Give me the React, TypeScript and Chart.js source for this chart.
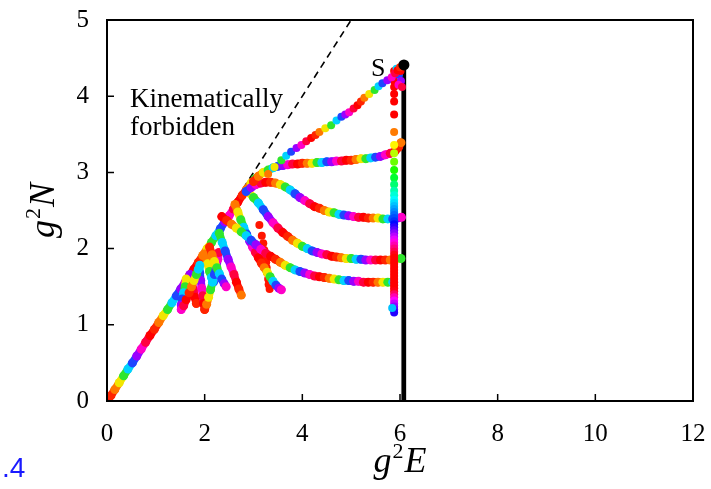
import React, { useEffect, useRef } from "react";
import { Chart, registerables } from "chart.js";

Chart.register(...registerables);

type P = [number, number];

const xTicks = [0, 2, 4, 6, 8, 10, 12];
const yTicks = [0, 1, 2, 3, 4, 5];

// forbidden boundary N = E (dashed)
const forbiddenLine: P[] = [[0, 0], [5, 5]];

// threshold (thick black) and its thin guide
const threshold: P[] = [[6.08, 0], [6.08, 4.41]];
const thresholdGuide: P[] = [[6.03, 0], [6.03, 4.41]];
const sPoint: P[] = [[6.08, 4.41]];

const diagonal: P[] = [
  [0, 0], [0.08, 0.07], [0.16, 0.15], [0.25, 0.24], [0.34, 0.33], [0.43, 0.42], [0.52, 0.5],
  [0.61, 0.59], [0.7, 0.68], [0.79, 0.77], [0.88, 0.86], [0.97, 0.94], [1.06, 1.03], [1.15, 1.12],
  [1.24, 1.2], [1.33, 1.29], [1.42, 1.38], [1.51, 1.47], [1.6, 1.56], [1.69, 1.65], [1.78, 1.73],
  [1.87, 1.82], [1.96, 1.91], [2.05, 2.0], [2.14, 2.08], [2.23, 2.17], [2.32, 2.26], [2.41, 2.35],
  [2.5, 2.43], [2.59, 2.52], [2.68, 2.61], [2.77, 2.7], [2.86, 2.78], [2.95, 2.86], [3.04, 2.92],
];

const branchTop: P[] = [
  [3.3, 2.98], [3.43, 3.07], [3.57, 3.16], [3.67, 3.22], [3.77, 3.27], [3.88, 3.32], [3.98, 3.36],
  [4.08, 3.41], [4.18, 3.45], [4.27, 3.49], [4.35, 3.53], [4.47, 3.58], [4.59, 3.62], [4.7, 3.68],
  [4.8, 3.73], [4.88, 3.76], [4.96, 3.79], [5.05, 3.84], [5.13, 3.88], [5.2, 3.93], [5.27, 3.98],
  [5.37, 4.03], [5.48, 4.08], [5.56, 4.13], [5.64, 4.17], [5.74, 4.21], [5.83, 4.25], [5.9, 4.3],
  [5.95, 4.34], [6.0, 4.38],
];

const sCluster: P[] = [[5.93, 4.36], [5.98, 4.28], [6.02, 4.2], [5.97, 4.15], [6.04, 4.12], [6.01, 4.33]];

const branch2: P[] = [
  [3.0, 2.88], [3.1, 2.95], [3.2, 3.0], [3.3, 3.03], [3.4, 3.06], [3.5, 3.08], [3.6, 3.09], [3.7, 3.1],
  [3.8, 3.11], [3.9, 3.11], [4.0, 3.12], [4.1, 3.12], [4.2, 3.12], [4.3, 3.13], [4.4, 3.13], [4.5, 3.14],
  [4.6, 3.14], [4.7, 3.15], [4.8, 3.15], [4.9, 3.16], [5.0, 3.16], [5.1, 3.17], [5.2, 3.18], [5.3, 3.18],
  [5.4, 3.19], [5.5, 3.2], [5.6, 3.21], [5.7, 3.23], [5.8, 3.25], [5.9, 3.28], [5.97, 3.33], [6.02, 3.39],
];

const branch3: P[] = [
  [2.85, 2.75], [2.95, 2.8], [3.05, 2.84], [3.15, 2.86], [3.25, 2.87], [3.35, 2.87], [3.45, 2.86],
  [3.55, 2.84], [3.65, 2.81], [3.75, 2.77], [3.85, 2.72], [3.95, 2.67], [4.05, 2.63], [4.15, 2.59],
  [4.25, 2.55], [4.35, 2.53], [4.45, 2.5], [4.55, 2.48], [4.65, 2.47], [4.75, 2.45], [4.85, 2.44],
  [4.95, 2.43], [5.05, 2.42], [5.15, 2.41], [5.25, 2.41], [5.35, 2.4], [5.45, 2.4], [5.55, 2.4],
  [5.65, 2.39], [5.75, 2.39], [5.85, 2.39], [5.95, 2.4], [6.03, 2.41],
];

const branch4: P[] = [
  [2.9, 2.74], [3.0, 2.67], [3.1, 2.6], [3.2, 2.51], [3.3, 2.42], [3.4, 2.34], [3.5, 2.27], [3.6, 2.21],
  [3.7, 2.16], [3.8, 2.11], [3.9, 2.07], [4.0, 2.03], [4.1, 2.0], [4.2, 1.97], [4.3, 1.95], [4.4, 1.93],
  [4.5, 1.92], [4.6, 1.9], [4.7, 1.89], [4.8, 1.88], [4.9, 1.87], [5.0, 1.87], [5.1, 1.86], [5.2, 1.86],
  [5.3, 1.85], [5.4, 1.85], [5.5, 1.85], [5.6, 1.85], [5.7, 1.85], [5.8, 1.85], [5.9, 1.86], [6.02, 1.87],
];

const branch5: P[] = [
  [2.35, 2.42], [2.45, 2.37], [2.55, 2.32], [2.65, 2.27], [2.75, 2.22], [2.85, 2.17], [2.95, 2.11],
  [3.05, 2.05], [3.15, 1.99], [3.25, 1.94], [3.35, 1.9], [3.45, 1.86], [3.55, 1.82], [3.65, 1.78],
  [3.75, 1.75], [3.85, 1.72], [3.95, 1.7], [4.05, 1.68], [4.15, 1.66], [4.25, 1.64], [4.35, 1.63],
  [4.45, 1.62], [4.55, 1.61], [4.65, 1.6], [4.75, 1.59], [4.85, 1.58], [4.95, 1.58], [5.05, 1.57],
  [5.15, 1.57], [5.25, 1.56], [5.35, 1.56], [5.45, 1.56], [5.55, 1.56], [5.65, 1.56], [5.75, 1.56],
  [5.85, 1.56],
];

const zigA: P[] = [
  [1.62, 1.6], [1.6, 1.5], [1.57, 1.42], [1.54, 1.34], [1.52, 1.26], [1.52, 1.2], [1.57, 1.25],
  [1.62, 1.33], [1.68, 1.42], [1.73, 1.5], [1.78, 1.58], [1.83, 1.66], [1.87, 1.73],
];
const zigB: P[] = [
  [1.9, 1.78], [1.9, 1.68], [1.92, 1.58], [1.94, 1.48], [1.96, 1.38], [1.98, 1.28], [2.0, 1.2],
  [2.04, 1.27], [2.08, 1.36], [2.12, 1.46], [2.16, 1.56], [2.2, 1.66], [2.24, 1.76], [2.27, 1.86],
  [2.29, 1.95],
];
const zigC: P[] = [
  [2.1, 2.02], [2.15, 1.92], [2.2, 1.83], [2.25, 1.75], [2.3, 1.67], [2.35, 1.6], [2.4, 1.54], [2.44, 1.5],
];
const zigD: P[] = [
  [2.3, 2.2], [2.36, 2.08], [2.42, 1.97], [2.48, 1.86], [2.54, 1.76], [2.6, 1.66], [2.65, 1.56],
  [2.7, 1.47], [2.75, 1.39],
];
const zigE: P[] = [
  [2.62, 2.58], [2.68, 2.48], [2.74, 2.38], [2.8, 2.28], [2.86, 2.19], [2.92, 2.1], [2.98, 2.02],
  [3.04, 1.95], [3.1, 1.88], [3.16, 1.81], [3.22, 1.75], [3.28, 1.69], [3.34, 1.63], [3.4, 1.57],
  [3.46, 1.52], [3.52, 1.48], [3.57, 1.46],
];
const zigF: P[] = [
  [1.7, 1.66], [1.74, 1.56], [1.77, 1.46], [1.8, 1.36], [1.83, 1.28],
];
const zigG: P[] = [
  [2.0, 1.93], [2.06, 1.8], [2.1, 1.7], [2.14, 1.62], [2.18, 1.56],
];
const sparseRed: P[] = [
  [3.12, 2.31], [3.17, 2.17], [3.2, 2.07], [3.22, 1.98], [3.24, 1.9], [3.26, 1.82], [3.27, 1.75],
  [3.28, 1.68], [3.3, 1.6], [3.31, 1.53], [3.33, 1.47],
];

const columnE = 5.88;
const columnN = [
  4.33, 4.27, 4.2, 4.12, 4.03, 3.93, 3.76, 3.53, 3.36, 3.25, 3.14, 3.03, 2.93, 2.84, 2.76, 2.7, 2.64,
  2.6, 2.56, 2.52, 2.48, 2.44, 2.4, 2.36, 2.32, 2.28, 2.24, 2.2, 2.16, 2.12, 2.08, 2.04, 2.0, 1.96,
  1.92, 1.88, 1.84, 1.8, 1.76, 1.72, 1.68, 1.64, 1.6, 1.56, 1.52, 1.48, 1.44, 1.4, 1.36, 1.32, 1.28,
  1.24, 1.2, 1.16,
];
const columnExtra: P[] = [[5.84, 1.22]];

const PALETTE = [
  "#ff0000", "#ff2400", "#ff7800", "#f2e600", "#2ee62e", "#00d2ff", "#1e46ff", "#9a00ff", "#ff00c8", "#ff0040",
];
const HUE_STOPS: P[] = [[4.4, 0], [3.7, 0], [2.35, 230], [2.1, 300], [1.9, 360], [1.45, 360], [1.32, 300], [1.15, 245]];

function hueAt(n: number): number {
  for (let i = 0; i < HUE_STOPS.length - 1; i++) {
    const [n0, h0] = HUE_STOPS[i];
    const [n1, h1] = HUE_STOPS[i + 1];
    if (n <= n0 && n >= n1) return h0 + ((n0 - n) / (n0 - n1)) * (h1 - h0);
  }
  return 245;
}

const toXY = (pts: P[]) => pts.map(([x, y]) => ({ x, y }));

function strand(pts: P[], offset: number, order: number) {
  const colors = pts.map((_, i) => PALETTE[(i + offset) % PALETTE.length]);
  return {
    data: toXY(pts),
    showLine: true,
    borderWidth: 8,
    borderColor: colors[0],
    borderCapStyle: "round",
    borderJoinStyle: "round",
    segment: { borderColor: (c: any) => colors[c.p0DataIndex] },
    pointRadius: 4.5,
    pointHoverRadius: 4.5,
    pointBorderWidth: 0,
    pointBackgroundColor: colors,
    order,
  };
}

function dots(pts: P[], offset: number, order: number, fixed?: string) {
  const colors = pts.map((_, i) => fixed || PALETTE[(i + offset) % PALETTE.length]);
  return {
    data: toXY(pts),
    showLine: false,
    pointRadius: 4,
    pointHoverRadius: 4,
    pointBorderWidth: 0,
    pointBackgroundColor: colors,
    order,
  };
}

const SERIF = '"Liberation Serif", "Times New Roman", serif';

function drawSup(ctx: CanvasRenderingContext2D, a: string, sup: string, b: string, cx: number, base: number) {
  const big = `italic 36px ${SERIF}`;
  const small = `22px ${SERIF}`;
  ctx.font = big;
  const wa = ctx.measureText(a).width;
  const wb = ctx.measureText(b).width;
  ctx.font = small;
  const ws = ctx.measureText(sup).width;
  const total = wa + ws + wb + 2;
  let x0 = cx - total / 2;
  ctx.textAlign = "left";
  ctx.textBaseline = "alphabetic";
  ctx.font = big;
  ctx.fillText(a, x0, base);
  x0 += wa + 1;
  ctx.font = small;
  ctx.fillText(sup, x0, base - 14);
  x0 += ws + 1;
  ctx.font = big;
  ctx.fillText(b, x0, base);
}

const overlay = {
  id: "overlay",
  afterDraw(chart: any) {
    const { ctx, chartArea: a, scales } = chart;
    const x = scales.x;
    const y = scales.y;
    ctx.save();
    ctx.strokeStyle = "#000";
    ctx.lineWidth = 2;
    ctx.strokeRect(a.left, a.top, a.right - a.left, a.bottom - a.top);
    ctx.lineWidth = 1.5;
    ctx.beginPath();
    xTicks.forEach((v) => {
      const px = x.getPixelForValue(v);
      ctx.moveTo(px, a.bottom);
      ctx.lineTo(px, a.bottom - 7);
    });
    yTicks.forEach((v) => {
      const py = y.getPixelForValue(v);
      ctx.moveTo(a.left, py);
      ctx.lineTo(a.left + 7, py);
    });
    ctx.stroke();

    ctx.fillStyle = "#000";
    ctx.font = `27px ${SERIF}`;
    ctx.textAlign = "left";
    ctx.textBaseline = "alphabetic";
    ctx.fillText("Kinematically", x.getPixelForValue(0.47), y.getPixelForValue(3.86));
    ctx.fillText("forbidden", x.getPixelForValue(0.47), y.getPixelForValue(3.49));
    ctx.font = `26px ${SERIF}`;
    ctx.textAlign = "right";
    ctx.fillText("S", x.getPixelForValue(5.7), y.getPixelForValue(4.27));

    drawSup(ctx, "g", "2", "E", (a.left + a.right) / 2, 472);
    ctx.save();
    ctx.translate(42, (a.top + a.bottom) / 2);
    ctx.rotate(-Math.PI / 2);
    drawSup(ctx, "g", "2", "N", 0, 12);
    ctx.restore();

    ctx.fillStyle = "#1a1aff";
    ctx.font = '28px "Liberation Sans", Arial, sans-serif';
    ctx.textAlign = "left";
    ctx.fillText(".4", 2, 477);
    ctx.restore();
  },
};

export default function App() {
  const ref = useRef<HTMLCanvasElement | null>(null);
  useEffect(() => {
    if (!ref.current) return;
    const columnPts: P[] = columnN.map((n) => [columnE, n]);
    const columnColors = columnN.map((n) => `hsl(${hueAt(n) % 360}, 100%, 50%)`);
    const datasets: any[] = [
      {
        data: toXY(forbiddenLine),
        showLine: true,
        borderColor: "#000",
        borderWidth: 1.6,
        borderDash: [7, 5],
        pointRadius: 0,
        order: 20,
      },
      {
        data: toXY(thresholdGuide),
        showLine: true,
        borderColor: "#9a9a9a",
        borderWidth: 1,
        pointRadius: 0,
        order: 19,
      },
      {
        data: toXY(threshold),
        showLine: true,
        borderColor: "#000",
        borderWidth: 4.5,
        pointRadius: 0,
        order: 18,
      },
      strand(diagonal, 0, 10),
      strand(zigA, 3, 9),
      strand(zigB, 5, 9),
      strand(zigF, 7, 9),
      strand(zigG, 2, 9),
      strand(zigC, 1, 8),
      strand(zigD, 4, 8),
      strand(zigE, 2, 7),
      strand(branch5, 0, 6),
      strand(branch4, 3, 5),
      strand(branch3, 6, 4),
      strand(branch2, 1, 3),
      dots(sparseRed, 0, 7, "#ff1500"),
      dots(branchTop, 2, 2),
      dots(sCluster, 5, 2),
      {
        data: toXY(columnPts),
        showLine: false,
        pointRadius: 4,
        pointHoverRadius: 4,
        pointBorderWidth: 0,
        pointBackgroundColor: columnColors,
        order: 2,
      },
      dots(columnExtra, 0, 1, "#00c0ff"),
      {
        data: toXY(sPoint),
        showLine: false,
        pointRadius: 5.5,
        pointBorderWidth: 0,
        pointBackgroundColor: "#000",
        order: 0,
      },
    ];
    const chart = new Chart(ref.current, {
      type: "scatter",
      data: { datasets },
      options: {
        animation: false,
        responsive: false,
        events: [],
        layout: { padding: { top: 20, right: 18, left: 0, bottom: 0 } },
        plugins: { legend: { display: false }, tooltip: { enabled: false } },
        scales: {
          x: {
            type: "linear",
            min: 0,
            max: 12,
            afterFit: (s: any) => {
              s.height = 88;
              s.paddingLeft = 0;
              s.paddingRight = 0;
              s.paddingTop = 0;
              s.paddingBottom = 0;
            },
            afterBuildTicks: (s: any) => { s.ticks = xTicks.map((v) => ({ value: v })); },
            grid: { display: false, drawTicks: false },
            border: { display: false },
            ticks: { color: "#000", padding: 18, font: { family: SERIF, size: 25 } },
          },
          y: {
            type: "linear",
            min: 0,
            max: 5,
            afterFit: (s: any) => {
              s.width = 107;
              s.paddingLeft = 0;
              s.paddingRight = 0;
              s.paddingTop = 0;
              s.paddingBottom = 0;
            },
            afterBuildTicks: (s: any) => { s.ticks = yTicks.map((v) => ({ value: v })); },
            grid: { display: false, drawTicks: false },
            border: { display: false },
            ticks: { color: "#000", padding: 18, font: { family: SERIF, size: 25 } },
          },
        },
      },
      plugins: [overlay],
    });
    return () => chart.destroy();
  }, []);
  return (
    <div style={{ position: "absolute", left: 0, top: 0, width: 711, height: 489, background: "#fff" }}>
      <canvas ref={ref} width={711} height={489} style={{ display: "block" }} />
    </div>
  );
}
